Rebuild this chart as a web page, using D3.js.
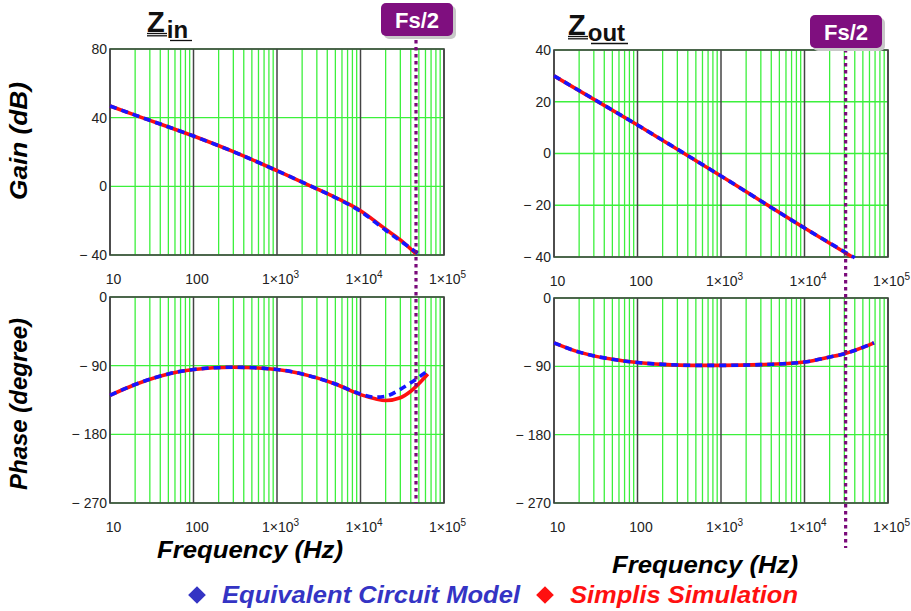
<!DOCTYPE html>
<html>
<head>
<meta charset="utf-8">
<script src="https://cdn.jsdelivr.net/npm/d3@7"></script>
<style>
  body { margin: 0; background: #fff; }
  svg { display: block; font-family: "Liberation Sans", Arial, sans-serif; }
  .tick text { font-size: 14px; fill: #222; }
  .bigLabel { font-weight: bold; font-style: italic; font-size: 24px; }
</style>
</head>
<body>
<div id="chart"></div>
<script>
/*
 * data
 */
const decades = [10, 100, 1e3, 1e4, 1e5]

const zinGainFreqModel = [10, 20, 100, 300, 1000, 3000, 5000, 10000, 20000, 30000, 52000]
const zinGainModel = [46.8, 41.5, 29.3, 20.2, 9.1, -1.5, -6.6, -14.6, -25.6, -31.8, -40]
const zinGainFreqSim = [10, 20, 100, 300, 1000, 3000, 5000, 10000, 20000, 30000, 46000]
const zinGainSim = [46.8, 41.5, 29.3, 20.2, 9.1, -1.5, -6.5, -14.2, -25, -31.2, -39.3]

const zinPhaseFreq = [10, 20, 50, 100, 300, 1000, 3000, 5000, 10000, 15000, 20000, 30000, 40000, 64000]
const zinPhaseModel = [-129, -114.7, -100.8, -95, -92, -95, -106, -114, -127, -131.3, -130, -121, -112.5, -96.5]
const zinPhaseSim = [-129, -114.7, -100.8, -95, -92, -95, -106, -114, -128, -133.4, -135.6, -132, -123.5, -101]

const zoutGainFreqModel = [10, 100, 1000, 10000, 40000]
const zoutGainModel = [30, 11, -8.7, -28.8, -40.3]
const zoutGainFreqSim = [10, 100, 1000, 10000, 37500]
const zoutGainSim = [30, 11, -8.7, -28.8, -40]

const zoutPhaseFreq = [10, 20, 50, 100, 200, 500, 1000, 3000, 10000, 20000, 30000, 50000, 68000]
const zoutPhaseModel = [-59, -71.3, -80.8, -85, -87.4, -88.7, -88.7, -87.8, -84.3, -77.8, -73.4, -65, -59]
const zoutPhaseSim = [-59, -71.3, -80.8, -85, -87.4, -88.7, -88.7, -87.8, -84.3, -77.8, -73.4, -65, -59]

const fsHalfIn = 46200
const fsHalfOut = 31100

const gainInTicks = [-40, 0, 40, 80]
const gainOutTicks = [-40, -20, 0, 20, 40]
const phaseTicks = [-270, -180, -90, 0]

/*
 * Initialize SVG
 */
const w = 911
const h = 611
const svg = d3.select('#chart')
  .append('svg')
  .attr('width', w)
  .attr('height', h)

const zip = (xs, ys) => xs.map((f, i) => ({ f: f, v: ys[i] }))

const minorFreqs = []
for (let d = 10; d < 1e5; d *= 10) {
  for (let k = 2; k <= 9; k++) minorFreqs.push(d * k)
}

function drawPanel(opts) {
  const x = d3.scaleLog().domain([10, 1e5]).range([opts.left, opts.right])
  const y = d3.scaleLinear().domain(opts.yDomain).range([opts.bottom, opts.top])
  const g = svg.append('g')

  // minor green grid
  g.selectAll('line.minor')
    .data(minorFreqs)
    .enter()
    .append('line')
    .attr('x1', d => x(d)).attr('x2', d => x(d))
    .attr('y1', opts.top).attr('y2', opts.bottom)
    .style('stroke', '#3cf03c')
    .style('stroke-width', 1.3)

  g.selectAll('line.hgrid')
    .data(opts.yTicks)
    .enter()
    .append('line')
    .attr('x1', opts.left).attr('x2', opts.right)
    .attr('y1', d => y(d)).attr('y2', d => y(d))
    .style('stroke', '#3cf03c')
    .style('stroke-width', 1.3)

  // decade lines
  g.selectAll('line.major')
    .data(decades)
    .enter()
    .append('line')
    .attr('x1', d => x(d)).attr('x2', d => x(d))
    .attr('y1', opts.top).attr('y2', opts.bottom)
    .style('stroke', '#444')
    .style('stroke-width', 1.5)

  g.append('rect')
    .attr('x', opts.left).attr('y', opts.top)
    .attr('width', opts.right - opts.left)
    .attr('height', opts.bottom - opts.top)
    .style('fill', 'none')
    .style('stroke', '#444')
    .style('stroke-width', 1.6)

  // y axis labels
  const yAxis = d3.axisLeft(y)
    .tickValues(opts.yTicks)
    .tickSize(0)
    .tickPadding(3)
    .tickFormat(d => d < 0 ? '\u2212 ' + Math.abs(d) : d)
  const ya = g.append('g')
    .attr('transform', `translate(${opts.left},0)`)
    .call(yAxis)
  ya.select('.domain').remove()
  ya.selectAll('text').style('font-family', '"Liberation Sans", Arial, sans-serif')

  // x axis labels with superscripts
  const xAxis = d3.axisBottom(x)
    .tickValues(decades)
    .tickSize(0)
    .tickPadding(0)
    .tickFormat(() => '')
  const xa = g.append('g')
    .attr('transform', `translate(3,${opts.bottom + 29})`)
    .call(xAxis)
  xa.select('.domain').remove()
  xa.selectAll('.tick text')
    .attr('dy', 0)
    .style('font-family', '"Liberation Sans", Arial, sans-serif')
    .each(function(d) {
      const t = d3.select(this)
      const e = Math.round(Math.log10(d))
      if (e <= 2) {
        t.text(d)
      } else {
        t.append('tspan').text('1\u00d710')
        t.append('tspan').attr('dy', -6).style('font-size', '10px').text(e)
      }
    })

  // curves
  const line = d3.line()
    .x(d => x(d.f))
    .y(d => y(d.v))
    .curve(d3.curveMonotoneX)

  g.append('path')
    .datum(opts.sim)
    .attr('d', line)
    .style('fill', 'none')
    .style('stroke', '#ff1010')
    .style('stroke-width', 3.6)

  g.append('path')
    .datum(opts.model)
    .attr('d', line)
    .style('fill', 'none')
    .style('stroke', '#1515ff')
    .style('stroke-width', 3.6)
    .style('stroke-dasharray', '7,5')

  return x
}

const xIn = drawPanel({
  left: 110, right: 444, top: 49, bottom: 255,
  yDomain: [-40, 80], yTicks: gainInTicks,
  model: zip(zinGainFreqModel, zinGainModel),
  sim: zip(zinGainFreqSim, zinGainSim)
})
drawPanel({
  left: 110, right: 444, top: 297, bottom: 503,
  yDomain: [-270, 0], yTicks: phaseTicks,
  model: zip(zinPhaseFreq, zinPhaseModel),
  sim: zip(zinPhaseFreq, zinPhaseSim)
})
const xOut = drawPanel({
  left: 554, right: 888, top: 50, bottom: 257,
  yDomain: [-40, 40], yTicks: gainOutTicks,
  model: zip(zoutGainFreqModel, zoutGainModel),
  sim: zip(zoutGainFreqSim, zoutGainSim)
})
drawPanel({
  left: 554, right: 888, top: 298, bottom: 503,
  yDomain: [-270, 0], yTicks: phaseTicks,
  model: zip(zoutPhaseFreq, zoutPhaseModel),
  sim: zip(zoutPhaseFreq, zoutPhaseSim)
})

/*
 * Fs/2 markers
 */
function fsMarker(xPos, y1, y2, bx, by) {
  svg.append('line')
    .attr('x1', xPos).attr('x2', xPos)
    .attr('y1', y1).attr('y2', y2)
    .style('stroke', '#7a0a7a')
    .style('stroke-width', 3.2)
    .style('stroke-dasharray', '3.5,3.5')
  svg.append('rect')
    .attr('x', bx + 3).attr('y', by + 3)
    .attr('width', 72).attr('height', 33)
    .attr('rx', 5)
    .style('fill', '#c8c8c8')
  svg.append('rect')
    .attr('x', bx).attr('y', by)
    .attr('width', 72).attr('height', 33)
    .attr('rx', 5)
    .style('fill', '#7f0f7f')
  svg.append('text')
    .attr('x', bx + 36).attr('y', by + 25)
    .attr('text-anchor', 'middle')
    .style('fill', '#fff')
    .style('font-weight', 'bold')
    .style('font-size', '22px')
    .text('Fs/2')
}
fsMarker(xIn(fsHalfIn), 40, 503, 381, 3)
fsMarker(xOut(fsHalfOut), 49, 548, 810, 15)

/*
 * Titles Z_in / Z_out
 */
function title(x0, base, sub) {
  const t = svg.append('text')
    .attr('x', x0).attr('y', base)
    .style('font-weight', 'bold')
    .style('font-size', '29px')
    .style('fill', '#111')
  t.append('tspan').text('Z')
  t.append('tspan')
    .attr('dy', 6)
    .attr('dx', 2)
    .style('font-size', '24px')
    .text(sub)
  const zw = 20
  svg.append('line').attr('x1', x0).attr('x2', x0 + zw)
    .attr('y1', base + 1.5).attr('y2', base + 1.5)
    .style('stroke', '#111').style('stroke-width', 1.3)
  svg.append('line').attr('x1', x0).attr('x2', x0 + zw)
    .attr('y1', base + 3.8).attr('y2', base + 3.8)
    .style('stroke', '#111').style('stroke-width', 1.3)
  const subW = sub.length === 2 ? 22 : 37
  svg.append('line').attr('x1', x0 + zw + 3).attr('x2', x0 + zw + 3 + subW)
    .attr('y1', base + 8.5).attr('y2', base + 8.5)
    .style('stroke', '#111').style('stroke-width', 1.3)
}
title(147, 32, 'in')
title(568, 35, 'out')

/*
 * Axis titles
 */
svg.append('text')
  .attr('class', 'bigLabel')
  .attr('transform', 'translate(27,141) rotate(-90)')
  .attr('text-anchor', 'middle')
  .attr('textLength', 118)
  .attr('lengthAdjust', 'spacingAndGlyphs')
  .text('Gain (dB)')
svg.append('text')
  .attr('class', 'bigLabel')
  .attr('transform', 'translate(27,404) rotate(-90)')
  .attr('text-anchor', 'middle')
  .attr('textLength', 172)
  .attr('lengthAdjust', 'spacingAndGlyphs')
  .text('Phase (degree)')
svg.append('text')
  .attr('class', 'bigLabel')
  .attr('x', 250).attr('y', 558)
  .attr('text-anchor', 'middle')
  .attr('textLength', 186)
  .attr('lengthAdjust', 'spacingAndGlyphs')
  .text('Frequency (Hz)')
svg.append('text')
  .attr('class', 'bigLabel')
  .attr('x', 705).attr('y', 573)
  .attr('text-anchor', 'middle')
  .attr('textLength', 186)
  .attr('lengthAdjust', 'spacingAndGlyphs')
  .text('Frequency (Hz)')

/*
 * Legend
 */
const legend = [
  { label: 'Equivalent Circuit Model', color: '#3434c4', x: 197, width: 298 },
  { label: 'Simplis Simulation', color: '#ff1010', x: 545, width: 228 }
]
legend.forEach(l => {
  svg.append('path')
    .attr('d', d3.symbol().type(d3.symbolDiamond2).size(200))
    .attr('transform', `translate(${l.x},595)`)
    .style('fill', l.color)
  svg.append('text')
    .attr('class', 'bigLabel')
    .attr('x', l.x + 25).attr('y', 603)
    .attr('textLength', l.width)
    .attr('lengthAdjust', 'spacingAndGlyphs')
    .style('font-size', '23px')
    .style('fill', l.color)
    .text(l.label)
})
</script>
</body>
</html>
